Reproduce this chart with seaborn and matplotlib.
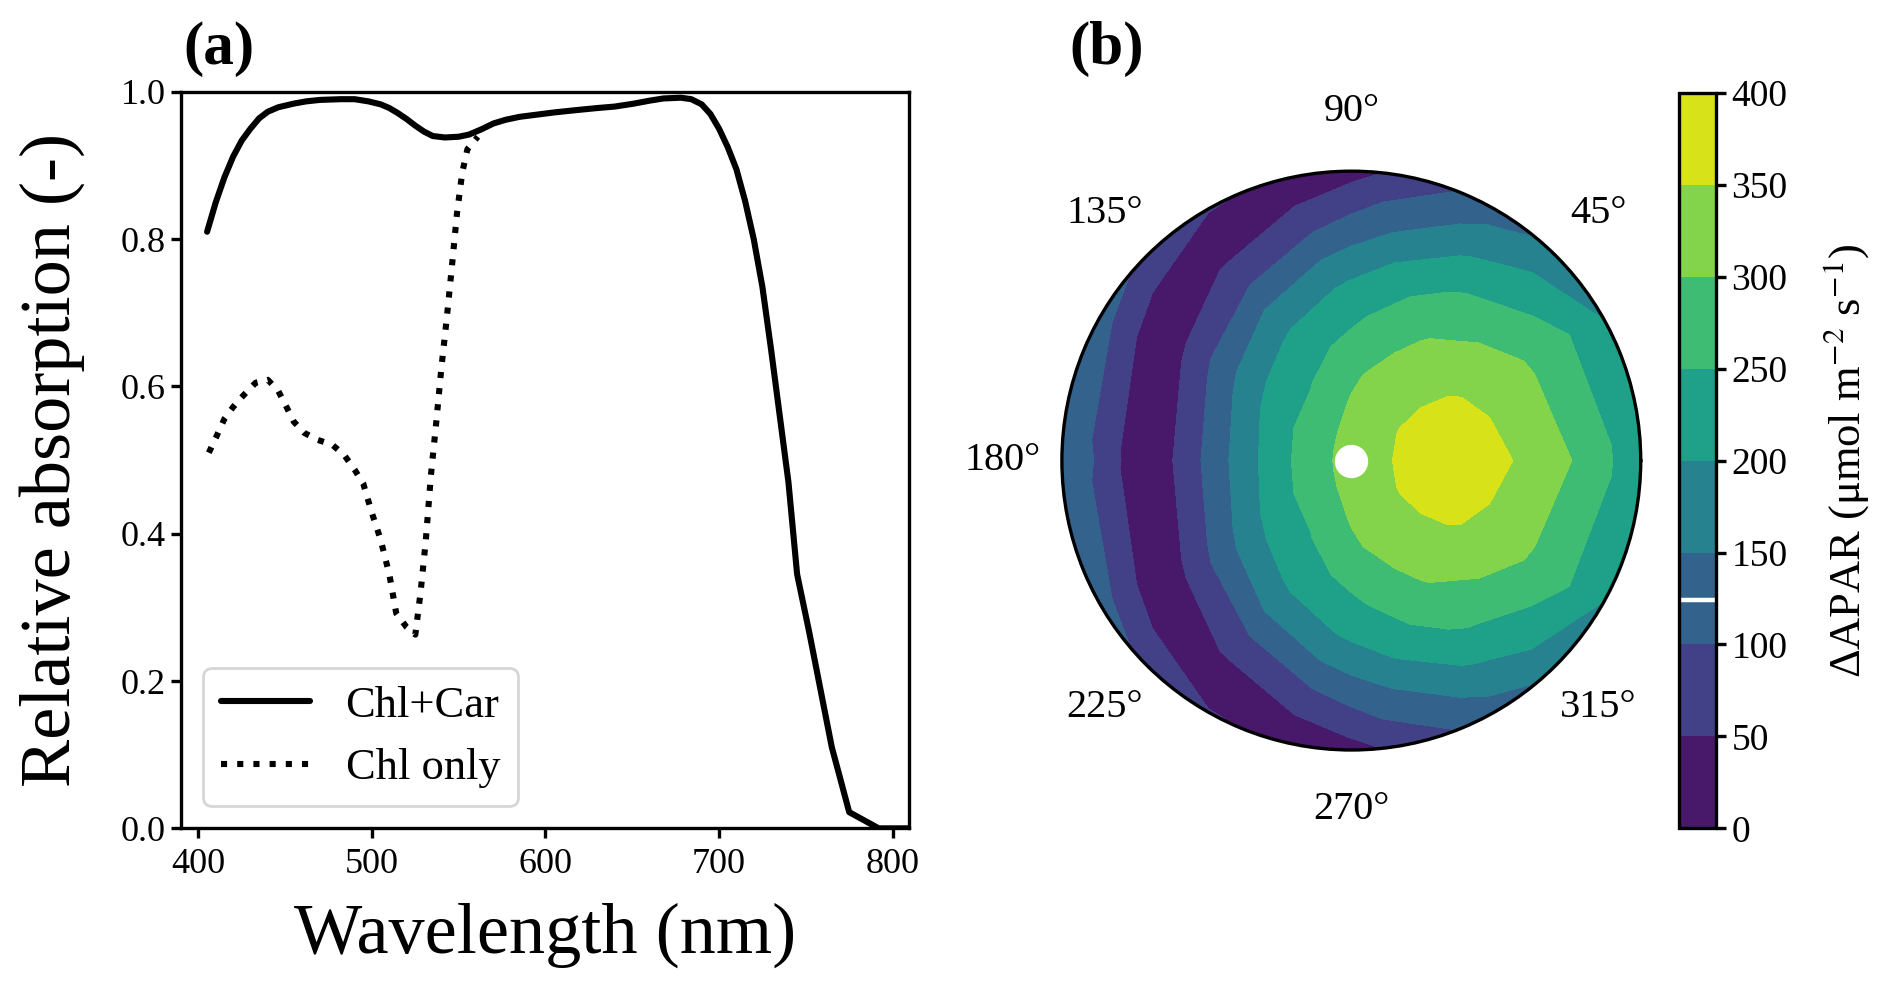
import numpy as np
import matplotlib
matplotlib.use("Agg")
import matplotlib.pyplot as plt
from matplotlib.path import Path
import seaborn as sns

# ---- panel (a): relative absorption spectra
wl_chlcar = [405, 410, 415, 420, 425, 430, 435, 440, 446, 455, 462, 470, 482, 490,
             498, 505, 510, 515, 520, 525, 530, 535, 542, 550, 556, 563, 570, 577,
             585, 595, 605, 617, 630, 640, 651, 660, 668, 678, 684, 690, 695, 700,
             705, 710, 715, 720, 725, 730, 735, 740, 745, 752, 760, 765, 769, 775,
             792, 810]
abs_chlcar = [0.810, 0.850, 0.884, 0.912, 0.934, 0.950, 0.964, 0.973, 0.979, 0.984,
              0.987, 0.989, 0.990, 0.990, 0.987, 0.983, 0.978, 0.971, 0.963, 0.954,
              0.946, 0.940, 0.938, 0.939, 0.942, 0.949, 0.957, 0.962, 0.966, 0.969,
              0.972, 0.975, 0.978, 0.980, 0.984, 0.988, 0.991, 0.992, 0.990, 0.983,
              0.970, 0.950, 0.925, 0.895, 0.852, 0.800, 0.735, 0.650, 0.560, 0.470,
              0.345, 0.266, 0.170, 0.110, 0.075, 0.022, 0.0, 0.0]

wl_chl = [406, 410, 415, 420, 426, 433, 440, 446, 451, 455, 461, 468, 477, 484,
          490, 495, 500, 505, 510, 514, 520, 525, 528, 531, 534, 537, 540, 543,
          546, 549, 552, 555, 561]
abs_chl = [0.510, 0.530, 0.556, 0.572, 0.588, 0.605, 0.609, 0.594, 0.571, 0.552,
           0.537, 0.528, 0.521, 0.507, 0.487, 0.468, 0.428, 0.392, 0.345, 0.292,
           0.273, 0.263, 0.320, 0.390, 0.480, 0.550, 0.625, 0.690, 0.761, 0.835,
           0.890, 0.922, 0.939]

# ---- panel (b): delta APAR over the hemisphere, one list per azimuth,
# values along the normalised radius 0 .. 1
azimuth_deg = [0, 30, 60, 90, 120, 150, 180, 210, 240, 270, 300, 330, 360]
radius = [0.0, 0.1, 0.2, 0.3, 0.4, 0.5, 0.6, 0.7, 0.8, 0.9, 1.0]
dapar_0 = [316, 342, 361, 377, 377, 361, 342, 316, 290, 251, 215]
dapar_30 = [316, 337, 353, 358, 355, 342, 321, 297, 268, 242, 196]
dapar_60 = [316, 326, 329, 325, 313, 296, 271, 242, 206, 165, 128]
dapar_90 = [316, 311, 304, 291, 265, 238, 210, 170, 121, 80, 30]
dapar_120 = [316, 300, 272, 245, 220, 192, 150, 100, 55, 8, 55]
dapar_150 = [316, 293, 260, 225, 185, 136, 87, 39, 21, 72, 123]
dapar_180 = [316, 291, 253, 210, 162, 110, 59, 5, 52, 105, 142]
dapar_210 = [316, 293, 260, 225, 185, 136, 87, 39, 21, 72, 123]
dapar_240 = [316, 300, 272, 245, 220, 192, 150, 100, 55, 8, 55]
dapar_270 = [316, 311, 304, 291, 265, 238, 210, 170, 121, 80, 30]
dapar_300 = [316, 326, 329, 325, 313, 296, 271, 242, 206, 165, 128]
dapar_330 = [316, 337, 353, 358, 355, 342, 321, 297, 268, 242, 196]
dapar_360 = [316, 342, 361, 377, 377, 361, 342, 316, 290, 251, 215]
levels = [0, 50, 100, 150, 200, 250, 300, 350, 400]
theta_labels = [45, 90, 135, 180, 225, 270, 315]
cbar_mark = 124


def follow_rim(path, rmax=1.0, step=np.deg2rad(1.5)):
    # contour polygons run in straight chords between grid azimuths; along the
    # outer rim add points so the fill reaches the circular spine
    verts = path.vertices
    codes = path.codes
    if codes is None:
        codes = np.full(len(verts), Path.LINETO)
        codes[0] = Path.MOVETO
    new_v, new_c = [], []
    start = None
    for v, c in zip(verts, codes):
        if c == Path.MOVETO:
            start = v
        target = start if c == Path.CLOSEPOLY else v
        if c in (Path.LINETO, Path.CLOSEPOLY) and new_v:
            prev = new_v[-1]
            if np.isclose(prev[1], rmax) and np.isclose(target[1], rmax):
                n = int(abs(target[0] - prev[0]) // step)
                for t in np.linspace(prev[0], target[0], n + 2)[1:-1]:
                    new_v.append([t, rmax])
                    new_c.append(Path.LINETO)
        new_v.append(list(v))
        new_c.append(c)
    return Path(np.array(new_v, dtype=float), np.array(new_c))


sns.set_style("ticks")
plt.rcParams['font.family'] = ['Liberation Serif', 'DejaVu Serif']
plt.rcParams['mathtext.fontset'] = 'stix'
for key in ['text.color', 'axes.labelcolor', 'xtick.color', 'ytick.color',
            'axes.edgecolor']:
    plt.rcParams[key] = 'black'

fig = plt.figure(figsize=(9.43, 4.99), dpi=200)

# (a) spectra
ax = fig.add_axes([0.096, 0.170, 0.386, 0.738])
sns.lineplot(x=wl_chlcar, y=abs_chlcar, ax=ax, color='black', lw=2.2,
             label='Chl+Car', sort=False)
sns.lineplot(x=wl_chl, y=abs_chl, ax=ax, color='black', lw=2.2, ls=':',
             label='Chl only', sort=False)
ax.set_xlim(390, 809.5)
ax.set_ylim(0, 1)
ax.set_xticks([400, 500, 600, 700, 800])
ax.set_yticks([0.0, 0.2, 0.4, 0.6, 0.8, 1.0])
ax.set_xlabel('Wavelength (nm)', fontsize=26, labelpad=8)
ax.set_ylabel('Relative absorption (-)', fontsize=26, labelpad=13)
ax.tick_params(labelsize=13, width=1.2)
ax.tick_params(axis='y', pad=2)
for sp in ax.spines.values():
    sp.set_linewidth(1.2)
ax.legend(loc='lower left', fontsize=16, frameon=True)
fig.text(0.097, 0.951, '(a)', fontsize=22, fontweight='bold', va='center')

# (b) polar contour
axp = fig.add_axes([0.563, 0.2485, 0.307, 0.580], projection='polar')
Z = np.array([dapar_0, dapar_30, dapar_60, dapar_90, dapar_120, dapar_150,
              dapar_180, dapar_210, dapar_240, dapar_270, dapar_300, dapar_330,
              dapar_360]).T
T, R = np.meshgrid(np.deg2rad(azimuth_deg), radius)
cs = axp.contourf(T, R, Z, levels=levels, cmap='viridis')
cs.set_paths([follow_rim(p) for p in cs.get_paths()])
axp.plot([0], [0], 'o', color='white', ms=11, zorder=5)
axp.set_ylim(0, 1)
axp.set_yticks([])
axp.grid(False)
axp.set_thetagrids(theta_labels, [f'{a}°' for a in theta_labels])
axp.tick_params(axis='x', labelsize=14.5, pad=11)
axp.spines['polar'].set_linewidth(1.2)
fig.text(0.567, 0.951, '(b)', fontsize=22, fontweight='bold', va='center')

cax = fig.add_axes([0.890, 0.170, 0.020, 0.737])
cb = fig.colorbar(cs, cax=cax, ticks=levels)
cb.set_label('ΔAPAR (μmol m$^{-2}$ s$^{-1}$)', fontsize=16, labelpad=12)
cb.outline.set_linewidth(1.2)
cb.outline.set_edgecolor('black')
cax.tick_params(labelsize=13.5, width=1.2, pad=2)
cax.axhline(cbar_mark, color='white', lw=1.6)

fig.savefig('out.png', dpi=200)
